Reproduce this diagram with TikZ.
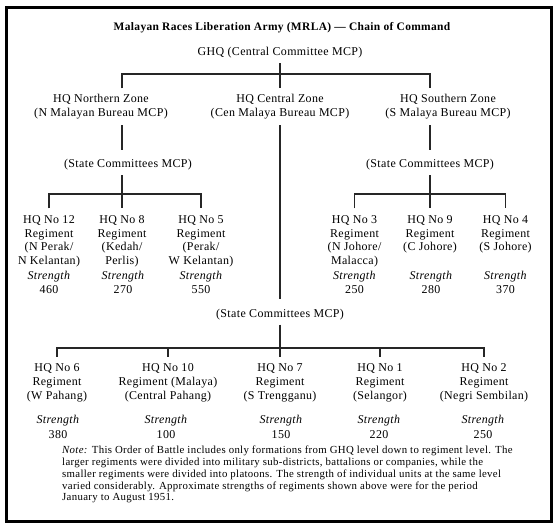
\documentclass[tikz,border=0pt]{standalone}
\usepackage{fontspec}
\setmainfont{Liberation Serif}[LetterSpace=3]
\usetikzlibrary{positioning}
\tikzset{
  mytitle/.style={font=\fontsize{11.5}{13}\selectfont\bfseries, inner sep=0pt, anchor=base},
  myhq/.style={font=\fontsize{12}{13.7}\selectfont, align=center, inner xsep=2pt, inner ysep=6bp},
  mystate/.style={font=\fontsize{12}{13.7}\selectfont, inner xsep=2pt, inner ysep=0pt, text height=18bp, text depth=7bp, anchor=base},
  myreg/.style={font=\fontsize{12}{13.7}\selectfont, align=center, inner xsep=0pt, inner ysep=7bp, anchor=north},
  mystrength/.style={font=\fontsize{12}{14.5}\selectfont, align=center, inner sep=0pt, anchor=north},
  mynote/.style={font=\fontsize{10.85}{11.8}\selectfont, align=left, inner sep=0pt, anchor=north west},
  myline/.style={line width=1.8bp, black!85},
  myframe/.style={line width=2.5bp}
}

\begin{document}
\begin{tikzpicture}[x=1bp, y=-1bp]
\useasboundingbox (0,0) rectangle (554,525);
\draw[myframe] (6.5,7.3) rectangle (551.5,521.7);
\node[mytitle] (title) at (282,30.5) {Malayan Races Liberation Army (MRLA) --- Chain of Command};

\node[myhq, anchor=base, inner ysep=5.2bp] (ghq) at (280,55.5) {GHQ (Central Committee MCP)};
\coordinate (b0) at (280,74);
\coordinate (colN) at (122,0);
\coordinate (colS) at (430,0);
\node[myhq, anchor=north] (nz) at (101,88.3) {HQ Northern Zone\\(N Malayan Bureau MCP)};
\node[myhq, anchor=north] (cz) at (280,88.3) {HQ Central Zone\\(Cen Malaya Bureau MCP)};
\node[myhq, anchor=north] (sz) at (448,88.3) {HQ Southern Zone\\(S Malaya Bureau MCP)};
\draw[myline] (ghq) -- (cz);
\draw[myline] (nz.north -| colN) |- (b0) -| (sz.north -| colS);

\node[mystate] (scN) at (128,168) {(State Committees MCP)};
\node[mystate] (scS) at (430,168) {(State Committees MCP)};
\node[mystate] (scC) at (280,317.3) {(State Committees MCP)};
\draw[myline] (nz.south -| colN) -- (scN.north -| colN);
\draw[myline] (sz.south -| colS) -- (scS.north -| colS);
\draw[myline] (cz) -- (scC);

\begin{scope}
  \coordinate (bN) at (122,194.3);
  \node[myreg] (r12) at (49,208.3) {HQ No 12\\Regiment\\(N Perak/\\N Kelantan)};
  \node[myreg] (r8) at (122,208.3) {HQ No 8\\Regiment\\(Kedah/\\Perlis)};
  \node[myreg] (r5) at (201,208.3) {HQ No 5\\Regiment\\(Perak/\\W Kelantan)};
  \draw[myline] (scN.south -| r8) -- (r8);
  \draw[myline] (r12) |- (bN) -| (r5);
  \node[mystrength] (s12) at (49,271) {\textit{Strength}\\460};
  \node[mystrength] (s8) at (123,271) {\textit{Strength}\\270};
  \node[mystrength] (s5) at (201,271) {\textit{Strength}\\550};
\end{scope}

\begin{scope}
  \coordinate (bS) at (430,194.3);
  \node[myreg] (r3) at (354.5,208.3) {HQ No 3\\Regiment\\(N Johore/\\Malacca)};
  \node[myreg] (r9) at (430,208.3) {HQ No 9\\Regiment\\(C Johore)};
  \node[myreg] (r4) at (505.5,208.3) {HQ No 4\\Regiment\\(S Johore)};
  \draw[myline] (scS.south -| r9) -- (r9);
  \draw[myline] (r3) |- (bS) -| (r4);
  \node[mystrength] (s3) at (354.5,271) {\textit{Strength}\\250};
  \node[mystrength] (s9) at (431,271) {\textit{Strength}\\280};
  \node[mystrength] (s4) at (505.5,271) {\textit{Strength}\\370};
\end{scope}

\begin{scope}
  \coordinate (bC) at (280,347.7);
  \node[myreg] (r6) at (57,356.7) {HQ No 6\\Regiment\\(W Pahang)};
  \node[myreg] (r10) at (168,356.7) {HQ No 10\\Regiment (Malaya)\\(Central Pahang)};
  \node[myreg] (r7) at (280,356.7) {HQ No 7\\Regiment\\(S Trengganu)};
  \node[myreg] (r1) at (380,356.7) {HQ No 1\\Regiment\\(Selangor)};
  \node[myreg] (r2) at (484,356.7) {HQ No 2\\Regiment\\(Negri Sembilan)};
  \draw[myline] (scC) -- (r7);
  \draw[myline] (r6) |- (bC) -| (r2);
  \draw[myline] (bC -| r10) -- (r10);
  \draw[myline] (bC -| r1) -- (r1);
  \node[mystrength] (s6) at (58,415.3) {\textit{Strength}\\380};
  \node[mystrength] (s10) at (166,415.3) {\textit{Strength}\\100};
  \node[mystrength] (s7) at (281,415.3) {\textit{Strength}\\150};
  \node[mystrength] (s1) at (379,415.3) {\textit{Strength}\\220};
  \node[mystrength] (s2) at (483,415.3) {\textit{Strength}\\250};
\end{scope}

\node[mynote] (note) at (62,446) {\textit{Note:} This Order of Battle includes only formations from GHQ level down to regiment level. The\\
larger regiments were divided into military sub-districts, battalions or companies, while the\\
smaller regiments were divided into platoons. The strength of individual units at the same level\\
varied considerably. Approximate strengths of regiments shown above were for the period\\
January to August 1951.};
\end{tikzpicture}
\end{document}
